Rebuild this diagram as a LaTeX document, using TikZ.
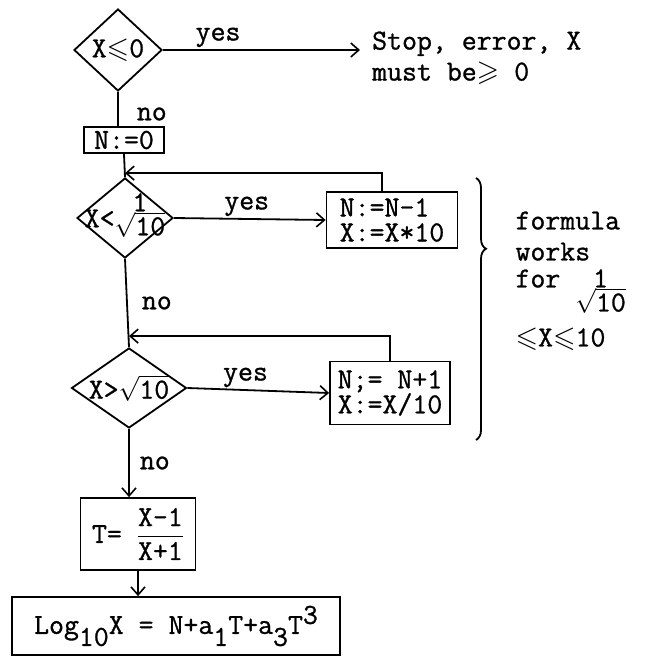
\documentclass[tikz,border=0pt]{standalone}
\usepackage{amsmath,amssymb}
\usepackage{fontspec}
\setmonofont{Latin Modern Mono}[FakeBold=1]
\usetikzlibrary{arrows.meta,positioning,shapes.geometric,decorations.pathreplacing}

\newcommand{\tw}[1]{\text{#1}}
\newcommand{\invroot}{\begin{tabular}[t]{@{}c@{}}1\\[-7pt]$\sqrt{\tw{10}}$\end{tabular}}

\begin{document}
\begin{tikzpicture}[
    x=1pt, y=-1pt,
    every node/.style={font=\ttfamily\fontsize{29}{25}\selectfont},
    decision/.style={draw, diamond, line width=1.8pt, inner sep=-20pt},
    stepbox/.style={draw, line width=1.8pt, align=left, inner xsep=6pt, inner ysep=4pt},
    arrow/.style={-{Straight Barb[length=8pt, width=14pt, line width=1.6pt]}, line width=1.8pt},
    link/.style={line width=1.8pt},
    lbl/.style={inner sep=2pt}
]
\useasboundingbox (0,0) rectangle (649,659);

\node[decision, minimum width=88pt, minimum height=82pt] (neg) at (118,50) {X$\leqslant$0};
\node[align=left, anchor=west, inner xsep=12pt] (stop) at (360,58) {Stop, error, X\\[6pt]must be$\geqslant$ 0};
\node[stepbox, minimum width=80pt, minimum height=25pt] (init) at (124,140) {N:=0};

\node[decision, minimum width=96pt, minimum height=80pt] (small) at (125,218)
    {X<\raisebox{16pt}{\invroot}};
\node[stepbox, minimum width=131pt, minimum height=56pt] (up) at (392,220) {N:=N-1\\X:=X*10};

\node[decision, minimum width=115pt, minimum height=80pt] (large) at (129,388) {X>$\sqrt{\tw{10}}$};
\node[stepbox, minimum width=120pt, minimum height=63pt] (down) at (390,393) {N;= N+1\\X:=X/10};

\node[stepbox, minimum width=115pt, minimum height=72pt] (tval) at (138,534) {T= $\dfrac{\tw{X-1}}{\tw{X+1}}$};
\node[stepbox, minimum width=328pt, minimum height=58pt] (logx) at (176,626)
    {Log\raisebox{-12pt}{10}X = N+a\raisebox{-12pt}{1}T+a\raisebox{-12pt}{3}T\raisebox{10pt}{3}};

\node[align=left, anchor=north west] (range) at (512,208)
    {formula\\[6pt]works\\[2pt]for \invroot\\[8pt]$\leqslant$X$\leqslant$10};

\coordinate[above=4pt of small.north] (back1);
\coordinate[above=11pt of large.north] (back2);

% main column
\draw[arrow] (neg.east) -- (neg.east -| stop.west) node[lbl, above, pos=0.28] {yes};
\draw[link] (neg.south) -- (neg.south |- init.north) node[lbl, right=16pt, pos=0.65] {no};
\draw[link] (init.south) -- (small.north);
\draw[arrow] (small.east) -- (up.west) node[lbl, above, pos=0.48] {yes};
\draw[link] (small.south) -- (large.north) node[lbl, right=12pt, pos=0.5] {no};
\draw[arrow] (large.east) -- (down.west) node[lbl, above, pos=0.41] {yes};
\draw[arrow] (large.south) -- (large.south |- tval.north) node[lbl, right=8pt, pos=0.5] {no};
\draw[arrow] (tval.south) -- (tval.south |- logx.north);

% loops back
\draw[arrow] ([xshift=-10pt]up.north) |- (back1);
\draw[arrow] (down.north) |- (back2);

% brace
\draw[link, decorate, decoration={brace, amplitude=10pt, aspect=0.27}] (476,178) -- (476,440);
\end{tikzpicture}
\end{document}
